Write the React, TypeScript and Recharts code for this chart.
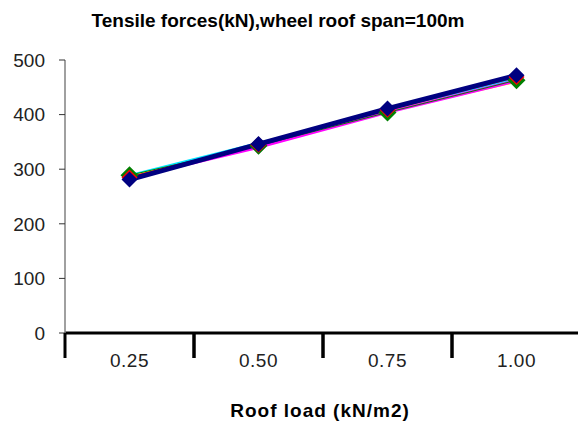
import React from "react";
import { LineChart, Line, XAxis, YAxis } from "recharts";

const loads = ["0.25", "0.50", "0.75", "1.00"];
const cyanSeries = [289, 348, 408, 466];
const yellowSeries = [286, 344, 406, 460];
const magentaSeries = [284, 340, 404, 462];
const greenSeries = [289, 343, 404, 463];
const redSeries = [285, 345, 409, 469];
const navySeries = [281, 346, 411, 472];
const yTicks = [0, 100, 200, 300, 400, 500];

const data = loads.map((load, i) => ({
  load,
  cyan: cyanSeries[i],
  yellow: yellowSeries[i],
  magenta: magentaSeries[i],
  green: greenSeries[i],
  red: redSeries[i],
  navy: navySeries[i],
}));

const FONT = "'Liberation Sans', Arial, sans-serif";
const HALF_BAND = 64.5;

const diamond = (color: string, r: number) => (props: any) => {
  const { cx, cy, index } = props;
  if (cx == null || cy == null) return <g key={index} />;
  return (
    <polygon
      key={index}
      points={`${cx},${cy - r} ${cx + r},${cy} ${cx},${cy + r} ${cx - r},${cy}`}
      fill={color}
    />
  );
};

const XTick = (props: any) => {
  const { x, y, payload } = props;
  return (
    <g>
      <line x1={x - HALF_BAND} y1={y} x2={x - HALF_BAND} y2={y + 25} stroke="#000" strokeWidth={3} />
      <line x1={x + HALF_BAND} y1={y} x2={x + HALF_BAND} y2={y + 25} stroke="#000" strokeWidth={3} />
      <text x={x} y={y + 34} textAnchor="middle" fontSize={19} fontFamily={FONT} fill="#222" letterSpacing={0.5}>
        {payload.value}
      </text>
    </g>
  );
};

export default function App() {
  return (
    <div style={{ position: "absolute", left: 0, top: 0, width: 578, height: 423, overflow: "hidden", background: "#fff" }}>
      <div
        style={{
          position: "absolute",
          top: 10,
          left: 0,
          width: 556,
          textAlign: "center",
          fontFamily: FONT,
          fontWeight: "bold",
          fontSize: 19,
          whiteSpace: "nowrap",
        }}
      >
        Tensile forces(kN),wheel roof span=100m
      </div>
      <LineChart width={581} height={423} data={data} margin={{ top: 60, right: 0, left: 0, bottom: 60 }}>
        <XAxis
          dataKey="load"
          padding={{ left: HALF_BAND, right: HALF_BAND }}
          axisLine={{ stroke: "#000", strokeWidth: 3 }}
          tickLine={false}
          tickSize={0}
          tickMargin={0}
          tick={<XTick />}
          interval={0}
        />
        <YAxis
          domain={[0, 500]}
          ticks={yTicks}
          width={65}
          axisLine={{ stroke: "#808080", strokeWidth: 1.5 }}
          tickLine={{ stroke: "#333" }}
          tickSize={6}
          tickMargin={14}
          tick={{ fontSize: 19, fill: "#222", fontFamily: FONT }}
        />
        <Line dataKey="cyan" stroke="#00e5ff" strokeWidth={2} dot={false} isAnimationActive={false} />
        <Line dataKey="yellow" stroke="#ffff00" strokeWidth={2} dot={false} isAnimationActive={false} />
        <Line dataKey="magenta" stroke="#ff00ff" strokeWidth={3} dot={diamond("#ff00ff", 7)} isAnimationActive={false} />
        <Line dataKey="green" stroke="#008000" strokeWidth={1} dot={diamond("#008000", 9)} isAnimationActive={false} />
        <Line dataKey="red" stroke="#ff0000" strokeWidth={2} dot={diamond("#ff0000", 8)} isAnimationActive={false} />
        <Line dataKey="navy" stroke="#000080" strokeWidth={5} dot={diamond("#000080", 8)} isAnimationActive={false} />
      </LineChart>
      <div
        style={{
          position: "absolute",
          top: 400,
          left: 200,
          width: 240,
          textAlign: "center",
          fontFamily: FONT,
          fontWeight: "bold",
          fontSize: 19,
          letterSpacing: 1,
          whiteSpace: "nowrap",
        }}
      >
        Roof load (kN/m2)
      </div>
    </div>
  );
}
